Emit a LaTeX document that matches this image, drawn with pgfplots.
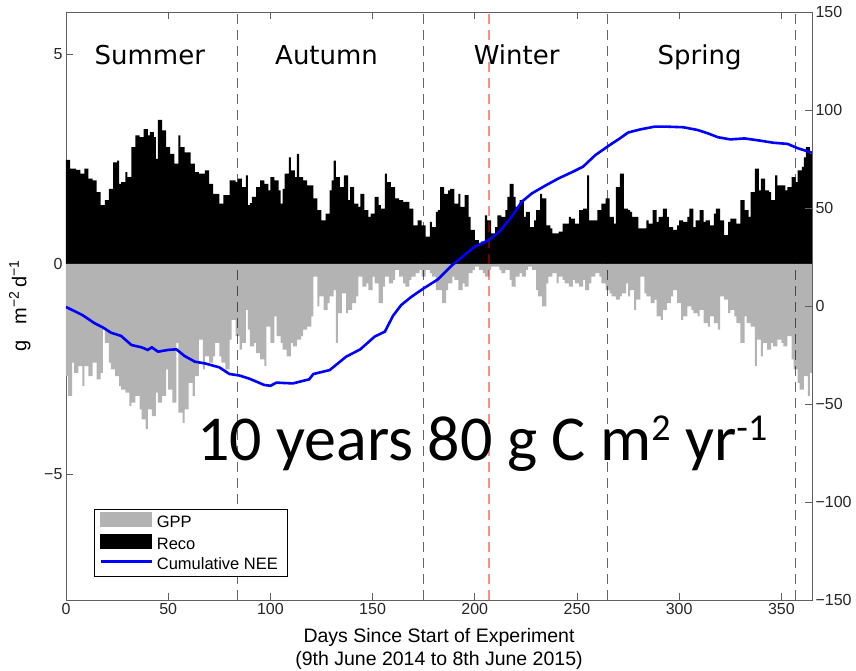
\documentclass[border=0pt]{standalone}
\usepackage{fontspec}
\setmainfont{Liberation Sans}
\newfontfamily\dejavu{DejaVu Sans}
\newfontfamily\carlito{Carlito}
\usepackage{pgfplots}
\usepackage{pgfplotstable}
\pgfplotsset{compat=1.18}

\definecolor{axgray}{RGB}{95,95,95}
\definecolor{gppgray}{RGB}{179,179,179}
\definecolor{neeblue}{RGB}{0,0,255}

% daily ecosystem respiration (g m-2 d-1)
\pgfplotstableread{
day reco
0 2.48
2 2.27
5 2.24
7 2.15
9 2.27
11 2.03
13 1.99
15 1.71
17 1.40
19 1.52
21 1.79
23 2.42
25 2.46
26 1.91
27 1.95
29 2.19
30 2.07
32 2.78
34 3.06
36 3.02
38 3.21
40 3.06
41 3.14
43 3.02
44 2.50
45 3.43
47 3.18
49 2.78
51 2.62
53 2.39
55 3.06
56 2.78
58 2.66
61 2.39
63 2.19
65 2.15
68 2.23
70 1.91
72 1.67
75 1.44
77 1.64
80 1.99
83 1.95
84 2.03
86 1.83
88 2.11
89 1.40
90 1.45
91 1.60
93 1.83
95 1.99
97 1.91
99 1.75
100 2.07
102 1.99
104 1.75
105 1.44
106 1.79
107 2.15
109 2.54
110 2.23
112 2.07
113 2.62
114 2.07
116 1.99
118 1.87
121 1.56
123 1.28
125 1.04
127 1.20
129 1.75
130 1.99
131 2.46
132 2.07
134 1.83
136 2.11
138 1.52
139 1.83
141 1.44
143 1.36
144 1.67
146 1.28
148 1.12
149 1.20
151 1.60
153 1.40
154 1.32
156 2.15
157 1.95
159 1.83
161 1.56
163 1.52
165 1.48
168 1.32
170 0.92
172 1.04
174 0.92
176 0.65
178 1.00
179 0.88
181 1.24
182 1.28
183 1.83
185 1.67
187 1.75
188 1.79
190 1.44
192 1.67
193 1.36
195 1.64
197 1.12
198 0.81
200 0.57
202 0.45
203 0.53
205 1.16
206 1.04
208 0.73
210 0.88
211 1.16
213 1.12
215 1.28
216 1.60
217 1.91
219 1.60
220 1.36
222 1.52
224 1.12
225 1.24
227 0.88
229 1.04
230 1.28
232 1.67
233 1.56
235 0.92
237 0.85
238 0.73
241 0.77
243 0.96
246 1.12
247 1.08
249 0.96
251 1.28
253 1.32
255 2.11
256 1.04
258 1.04
260 1.28
262 1.44
264 1.56
266 1.12
268 0.96
269 1.83
271 2.15
273 1.32
275 1.28
276 1.24
277 1.12
280 0.85
282 0.85
284 1.04
285 0.96
287 1.28
289 1.00
290 1.12
292 1.32
294 1.12
295 0.88
297 0.81
299 0.92
300 1.04
302 1.00
304 1.12
305 1.32
307 0.88
308 1.04
310 1.28
312 1.00
313 1.04
315 0.92
317 1.20
318 1.32
320 1.04
322 0.69
324 1.00
325 1.08
328 0.96
330 1.52
332 1.28
334 1.12
335 1.71
337 2.27
339 1.75
340 2.03
342 1.75
344 1.71
345 1.52
347 2.11
348 1.87
350 1.87
352 1.75
353 1.83
355 2.07
357 1.95
358 2.23
360 2.31
361 2.54
362 2.78
364 2.62
365 2.62
}\recotab

% daily gross primary productivity (negative, g m-2 d-1)
\pgfplotstableread{
day gpp
0 -2.67
1 -3.14
3 -2.35
4 -2.59
6 -2.43
8 -2.91
9 -2.43
11 -2.67
13 -2.35
15 -2.75
17 -2.59
18 -1.56
19 -1.88
21 -2.35
22 -2.51
24 -2.67
26 -2.91
27 -2.99
29 -3.06
31 -3.38
32 -3.30
34 -3.14
36 -3.46
37 -3.70
39 -3.93
40 -3.46
42 -3.62
44 -3.06
45 -3.30
47 -3.14
49 -2.51
50 -2.99
52 -3.30
54 -1.88
55 -3.54
57 -3.78
58 -3.46
60 -2.83
62 -3.14
63 -2.67
65 -1.80
67 -2.51
68 -2.20
70 -2.35
72 -2.20
73 -1.88
75 -2.20
76 -2.35
78 -2.51
80 -1.80
81 -1.33
83 -1.72
85 -2.04
86 -1.88
88 -1.09
89 -1.56
90 -1.96
92 -1.88
93 -2.12
95 -2.27
97 -2.43
98 -1.49
100 -1.88
102 -1.25
103 -1.72
105 -1.88
106 -2.04
108 -2.20
110 -1.88
111 -1.96
113 -1.80
115 -1.72
116 -1.56
118 -1.49
120 -1.25
121 -0.30
123 -1.01
124 -0.77
126 -1.09
128 -0.93
129 -0.77
131 -0.62
132 -1.88
133 -1.17
135 -0.70
137 -1.17
138 -1.09
140 -0.93
142 -0.77
143 -0.30
145 -0.54
147 -0.46
148 -0.62
150 -0.30
151 -0.46
153 -0.93
155 -0.54
156 -0.30
158 -0.46
160 -0.38
161 -0.14
163 -0.30
165 -0.46
166 -0.54
168 -0.38
169 -0.30
171 -0.22
173 -0.14
174 -0.30
176 -0.14
178 -0.22
179 -0.30
181 -0.62
182 -0.62
184 -0.93
186 -0.62
187 -0.46
189 -0.30
190 -0.38
192 -0.62
194 -0.46
195 -0.54
197 -0.22
199 -0.14
200 -0.06
202 -0.14
204 -0.22
205 -0.30
207 -0.14
208 -0.06
210 -0.06
212 -0.14
213 -0.22
215 -0.14
217 -0.38
218 -0.54
220 -0.30
222 -0.22
223 -0.30
225 -0.14
226 -0.06
228 -0.14
230 -0.62
231 -0.77
233 -1.01
235 -0.46
236 -0.30
238 -0.22
240 -0.46
241 -0.30
243 -0.38
244 -0.46
246 -0.54
248 -0.38
249 -0.46
251 -0.54
253 -0.38
254 -0.62
256 -0.46
257 -0.30
259 -0.22
261 -0.30
262 -0.46
264 -0.62
266 -0.70
267 -0.77
269 -0.85
271 -0.77
272 -0.70
274 -0.46
275 -0.77
276 -0.62
278 -1.09
279 -0.85
281 -0.30
283 -0.70
284 -0.77
286 -0.93
288 -0.85
289 -1.25
291 -1.33
292 -1.09
294 -0.93
296 -0.77
297 -0.62
299 -0.93
301 -1.33
302 -1.25
304 -1.01
306 -1.09
307 -1.17
309 -1.25
310 -1.09
312 -1.41
314 -1.49
315 -1.25
317 -1.41
319 -1.56
320 -0.77
322 -0.85
324 -1.17
325 -1.09
327 -1.25
328 -1.41
330 -1.88
332 -1.25
333 -1.41
335 -1.49
337 -2.43
338 -1.80
340 -2.20
341 -1.88
343 -2.04
345 -1.88
346 -1.96
348 -1.80
350 -1.88
351 -1.96
353 -1.72
355 -2.27
356 -2.51
358 -2.83
359 -2.99
361 -2.67
363 -3.14
364 -2.59
365 -2.59
}\gpptab

% cumulative NEE (g C m-2)
\pgfplotstableread{
day nee
0 -0.5
8 -4.6
14 -8.8
18 -10.9
22 -13.6
27 -15.3
32 -19.9
37 -21.1
40 -22.4
42 -21.1
45 -23.3
50 -22.4
54 -22.1
58 -25.5
63 -28.4
68 -29.3
75 -31.3
80 -34.7
85 -35.5
90 -37.2
97 -40.3
100 -40.7
103 -39.1
111 -39.5
119 -37.4
121 -34.7
129 -32.7
137 -25.9
144 -22.1
151 -15.6
156 -13.1
160 -5.0
164 0.5
169 4.7
175 9.0
182 13.6
189 20.9
194 25.2
200 30.3
207 33.7
212 37.9
218 45.6
223 53.2
228 57.5
235 61.7
241 65.1
248 68.5
253 71.1
259 77.0
266 82.1
271 85.5
275 88.5
281 90.1
288 91.5
294 91.5
302 91.2
309 89.8
314 88.1
319 86.1
325 85.0
332 85.5
340 84.3
346 83.3
353 82.7
358 80.5
365 78.2
}\neetab

\pgfplotsset{
  myaxis/.style={
    scale only axis, width=746pt, height=588pt,
    xmin=0, xmax=365,
    axis line style={axgray, line width=0.8pt},
    tick style={axgray, line width=0.8pt},
    tick align=inside, major tick length=7pt,
    /pgf/number format/assume math mode=true,
    ticklabel style={font=\fontsize{16}{16}\selectfont, text=black!85},
  },
}

\begin{document}
\begin{tikzpicture}
\path[use as bounding box] (-66pt,-71pt) rectangle (790pt,600pt);

\begin{axis}[
  myaxis,
  ymin=-8, ymax=6,
  xtick={0,50,...,350}, xtick pos=both,
  ytick={-5,0,5}, yticklabels={−5,0,5}, ytick pos=left,
  every axis y label/.style={at={(axis description cs:-0.062,0.5)}, rotate=90, anchor=center},
  ylabel={g\ \ \ m\textsuperscript{−2}\,d\textsuperscript{−1}},
  ylabel style={font=\fontsize{20}{20}\selectfont},
  every axis x label/.style={at={(axis description cs:0.5,0)}, anchor=north, yshift=-25pt},
  xlabel={Days Since Start of Experiment\\(9th June 2014 to 8th June 2015)},
  xlabel style={align=center, font=\fontsize{19.5}{23}\selectfont},
]
\addplot[const plot, fill=black, draw=none] table[x=day, y=reco] {\recotab} \closedcycle;
\addplot[const plot, fill=gppgray, draw=none] table[x=day, y=gpp] {\gpptab} \closedcycle;

\draw[black, opacity=0.6, line width=1.3pt, dash pattern=on 10pt off 6pt] (axis cs:84,-8) -- (axis cs:84,6);
\draw[black, opacity=0.6, line width=1.3pt, dash pattern=on 10pt off 6pt] (axis cs:175,-8) -- (axis cs:175,6);
\draw[black, opacity=0.6, line width=1.3pt, dash pattern=on 10pt off 6pt] (axis cs:265,-8) -- (axis cs:265,6);
\draw[black, opacity=0.6, line width=1.3pt, dash pattern=on 10pt off 6pt] (axis cs:357,-8) -- (axis cs:357,6);
\draw[red, opacity=0.45, line width=1.3pt, dash pattern=on 10pt off 6pt] (axis cs:207,-8) -- (axis cs:207,6);

\node[anchor=base, font=\dejavu\fontsize{26}{26}\selectfont] at (axis cs:41,4.76) {Summer};
\node[anchor=base, font=\dejavu\fontsize{26}{26}\selectfont] at (axis cs:127.5,4.76) {Autumn};
\node[anchor=base, font=\dejavu\fontsize{26}{26}\selectfont] at (axis cs:220.5,4.76) {Winter};
\node[anchor=base, font=\dejavu\fontsize{26}{26}\selectfont] at (axis cs:310,4.76) {Spring};
\end{axis}

\begin{axis}[
  myaxis,
  ymin=-150, ymax=150,
  axis x line=none, axis y line*=right,
  ytick={-150,-100,...,150},
  yticklabels={−150,−100,−50,0,50,100,150},
  legend style={at={(0.0375,0.155)}, anchor=north west, draw=black, line width=0.6pt,
    fill=white, font=\fontsize{16.5}{18}\selectfont, inner xsep=5pt, inner ysep=3pt,
    row sep=3pt, nodes={inner xsep=4pt}},
  legend cell align=left,
]
\addlegendimage{legend image code/.code={\fill[gppgray] (0pt,-4pt) rectangle (51pt,10pt);}}
\addlegendentry{GPP}
\addlegendimage{legend image code/.code={\fill[black] (0pt,-4pt) rectangle (51pt,10pt);}}
\addlegendentry{Reco}
\addplot[neeblue, line width=2.6pt, legend image code/.code={\draw[neeblue, line width=2.6pt] (0pt,3pt) -- (51pt,3pt);}]
  table[x=day, y=nee] {\neetab};
\addlegendentry{Cumulative NEE}

\node[anchor=base west, inner sep=0pt, font=\carlito\fontsize{64}{70}\selectfont]
  at (axis cs:64,-78.6) {10 years 80 g C m\raisebox{20pt}{\fontsize{38}{38}\selectfont 2} yr\raisebox{20pt}{\fontsize{38}{38}\selectfont -1}};
\end{axis}
\end{tikzpicture}
\end{document}
